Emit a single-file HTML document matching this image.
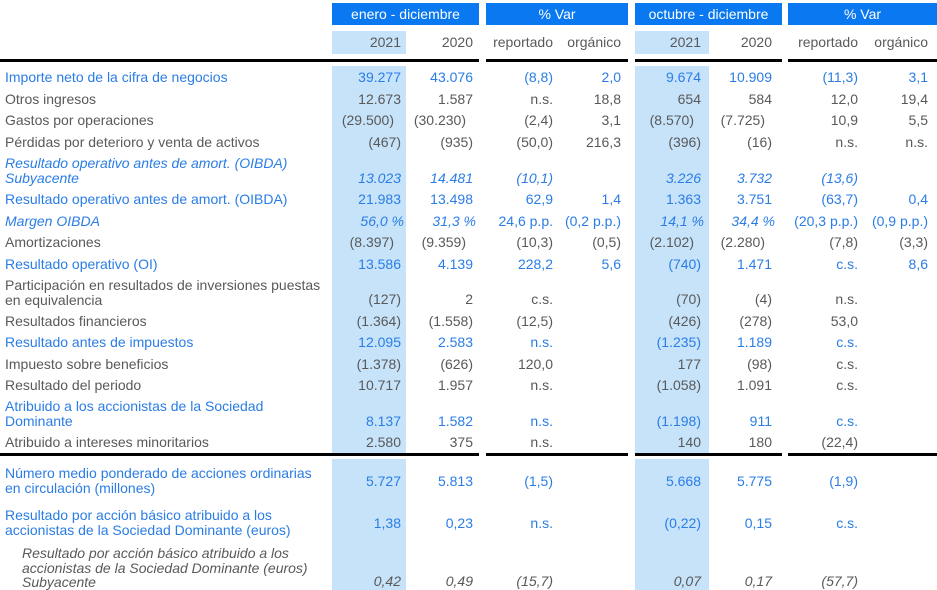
<!DOCTYPE html>
<html><head><meta charset="utf-8"><style>
body{margin:0;width:937px;height:590px;background:#fff;position:relative;overflow:hidden;font-family:"Liberation Sans",sans-serif;font-size:14px;color:#595959}
.a{position:absolute;white-space:nowrap;line-height:16px}
.r{text-align:right}
.b{color:#2a7de6}
.i{font-style:italic}
.hb{position:absolute;background:#0a78f0;color:#fff;text-align:center;line-height:22px;font-size:14px}
.lb{position:absolute;background:#c6e3fa}
.rule{position:absolute;height:3px;background:#000}
</style></head><body>
<div class="lb" style="left:332px;top:66px;width:74px;height:387px"></div>
<div class="lb" style="left:332px;top:459px;width:74px;height:131px"></div>
<div class="lb" style="left:635px;top:66px;width:74px;height:387px"></div>
<div class="lb" style="left:635px;top:459px;width:74px;height:131px"></div>
<div class="hb" style="left:332px;top:3px;width:147px;height:22px">enero - diciembre</div>
<div class="hb" style="left:486px;top:3px;width:142px;height:22px">% Var</div>
<div class="hb" style="left:635px;top:3px;width:147px;height:22px">octubre - diciembre</div>
<div class="hb" style="left:788px;top:3px;width:149px;height:22px">% Var</div>
<div class="lb" style="left:332px;top:31px;width:74px;height:23px"></div>
<div class="lb" style="left:635px;top:31px;width:74px;height:23px"></div>
<div class="rule" style="left:0;top:59px;width:479px"></div>
<div class="rule" style="left:486px;top:59px;width:142px"></div>
<div class="rule" style="left:635px;top:59px;width:147px"></div>
<div class="rule" style="left:788px;top:59px;width:149px"></div>
<div class="rule" style="left:0;top:453px;width:479px"></div>
<div class="rule" style="left:486px;top:453px;width:142px"></div>
<div class="rule" style="left:635px;top:453px;width:147px"></div>
<div class="rule" style="left:788px;top:453px;width:149px"></div>
<div id="t"></div>
<script>
const colRight=[401,473,553,621,701,772,858,928];
const subhdr=["2021","2020","reportado","orgánico","2021","2020","reportado","orgánico"];
const labels=[
[["Importe neto de la cifra de negocios"],"b",77,77],
[["Otros ingresos"],"",99,99],
[["Gastos por operaciones"],"",120,120],
[["Pérdidas por deterioro y venta de activos"],"",142,142],
[["Resultado operativo antes de amort. (OIBDA)","Subyacente"],"b i",163,178],
[["Resultado operativo antes de amort. (OIBDA)"],"b",199,199],
[["Margen OIBDA"],"b i",221,221],
[["Amortizaciones"],"",242,242],
[["Resultado operativo (OI)"],"b",264,264],
[["Participación en resultados de inversiones puestas","en equivalencia"],"",285,299],
[["Resultados financieros"],"",321,321],
[["Resultado antes de impuestos"],"b",342,342],
[["Impuesto sobre beneficios"],"",364,364],
[["Resultado del periodo"],"",385,385],
[["Atribuido a los accionistas de la Sociedad","Dominante"],"b",406,421],
[["Atribuido a intereses minoritarios"],"",442,442],
[["Número medio ponderado de acciones ordinarias","en circulación (millones)"],"b",473,481],
[["Resultado por acción básico atribuido a los","accionistas de la Sociedad Dominante (euros)"],"b",515,523],
[["Resultado por acción básico atribuido a los","accionistas de la Sociedad Dominante (euros)","Subyacente"],"i",553,581]
];
const values=[
["39.277","43.076","(8,8)","2,0","9.674","10.909","(11,3)","3,1"],
["12.673","1.587","n.s.","18,8","654","584","12,0","19,4"],
["(29.500)","(30.230)","(2,4)","3,1","(8.570)","(7.725)","10,9","5,5"],
["(467)","(935)","(50,0)","216,3","(396)","(16)","n.s.","n.s."],
["13.023","14.481","(10,1)","","3.226","3.732","(13,6)",""],
["21.983","13.498","62,9","1,4","1.363","3.751","(63,7)","0,4"],
["56,0 %","31,3 %","24,6 p.p.","(0,2 p.p.)","14,1 %","34,4 %","(20,3 p.p.)","(0,9 p.p.)"],
["(8.397)","(9.359)","(10,3)","(0,5)","(2.102)","(2.280)","(7,8)","(3,3)"],
["13.586","4.139","228,2","5,6","(740)","1.471","c.s.","8,6"],
["(127)","2","c.s.","","(70)","(4)","n.s.",""],
["(1.364)","(1.558)","(12,5)","","(426)","(278)","53,0",""],
["12.095","2.583","n.s.","","(1.235)","1.189","c.s.",""],
["(1.378)","(626)","120,0","","177","(98)","c.s.",""],
["10.717","1.957","n.s.","","(1.058)","1.091","c.s.",""],
["8.137","1.582","n.s.","","(1.198)","911","c.s.",""],
["2.580","375","n.s.","","140","180","(22,4)",""],
["5.727","5.813","(1,5)","","5.668","5.775","(1,9)",""],
["1,38","0,23","n.s.","","(0,22)","0,15","c.s.",""],
["0,42","0,49","(15,7)","","0,07","0,17","(57,7)",""]
];
const t=document.getElementById('t');
subhdr.forEach((s,c)=>{
 const d=document.createElement('div');
 d.className='a r';
 d.style.left=(colRight[c]-100)+'px';d.style.width='100px';d.style.top=(42-8)+'px';
 d.textContent=s;
 
 
 t.appendChild(d);
});
labels.forEach((row,r)=>{
 const [lines,cls,y0,yv]=row;
 const indent=r===18?22:5;
 lines.forEach((ln,k)=>{
  const d=document.createElement('div');
  d.className='a '+cls;
  d.style.left=indent+'px';d.style.top=(y0+k*14.5-8)+'px';
  d.textContent=ln;
  
  
  t.appendChild(d);
 });
 values[r].forEach((v,c)=>{
  if(!v)return;
  const d=document.createElement('div');
  let vc=cls;
  if(r===16||r===17)vc='b';
  if(r===6&&(c===2||c===3||c===6||c===7))vc='b';
  d.className='a r '+vc;
  let off=0;
  if((r===2||r===7)&&(c===0||c===1||c===4||c===5))off=-7;
  if(r===6&&(c===0||c===1||c===4||c===5))off=3;
  d.style.left=(colRight[c]+off-120)+'px';d.style.width='120px';d.style.top=(yv-8)+'px';
  d.textContent=v;
  
  
  t.appendChild(d);
 });
});
</script>
</body></html>
